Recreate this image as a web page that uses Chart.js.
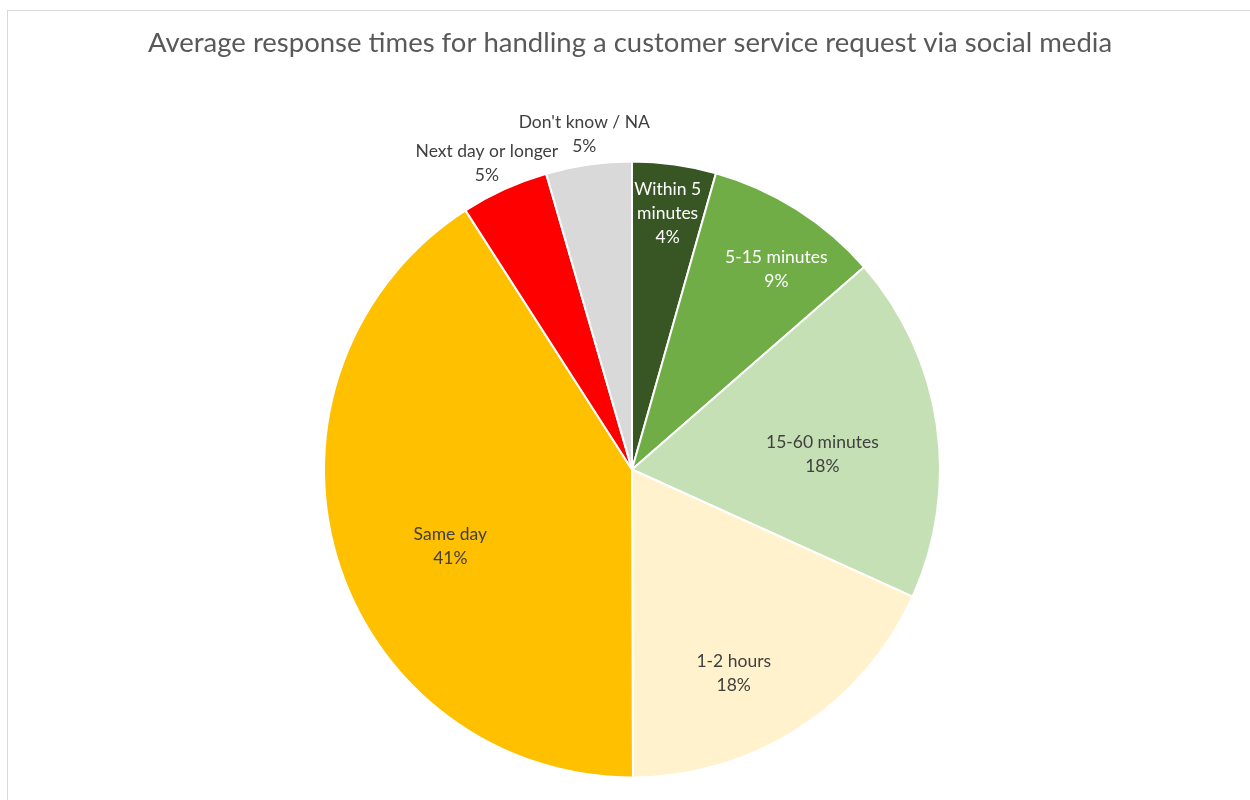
<!DOCTYPE html>
<html>
<head>
<meta charset="utf-8">
<script src="https://cdn.jsdelivr.net/npm/chart.js@4.4.1/dist/chart.umd.min.js"></script>
<style>
  html, body { margin: 0; padding: 0; background: #fff; overflow: hidden; }
  #frame { position: absolute; left: 7px; top: 10px; width: 1300px; height: 850px; border: 1px solid #d9d9d9; }
  #wrap { position: absolute; left: 0; top: 0; width: 1250px; height: 800px; }
</style>
</head>
<body>
<div id="frame"></div>
<div id="wrap"><canvas id="pieChart" width="1250" height="800"></canvas></div>
<script>
// data
const categories = ['Within 5 minutes', '5-15 minutes', '15-60 minutes', '1-2 hours', 'Same day', 'Next day or longer', "Don't know / NA"];
const shares = [4.4, 9.2, 18.2, 18.2, 41.0, 4.6, 4.5];
const shownPct = ['4%', '9%', '18%', '18%', '41%', '5%', '5%'];
const titleText = 'Average response times for handling a customer service request via social media';

const colors = ['#375623', '#70ad47', '#c5e0b4', '#fff2cc', '#ffc000', '#ff0000', '#d9d9d9'];
const textColors = ['#ffffff', '#ffffff', '#404040', '#404040', '#404040', '#404040', '#404040'];
// label lines (Excel wraps the first one)
const labelLines = [['Within 5', 'minutes'], ['5-15 minutes'], ['15-60 minutes'], ['1-2 hours'], ['Same day'], ['Next day or longer'], ["Don't know / NA"]];
const labelRadius = [0.84, 0.80, 0.62, 0.74, 0.64, 1.10, 1.10];
const labelShift = [0, 3.5, 3.8, 6.4, -6.4, -0.9, 0];

const FONT = 'Lato, "Open Sans", sans-serif';

const labelPlugin = {
    id: 'pieLabels',
    afterDraw(chart) {
        const ctx = chart.ctx;
        const arcs = chart.getDatasetMeta(0).data;
        ctx.save();
        ctx.textAlign = 'center';
        ctx.textBaseline = 'middle';
        ctx.font = '17.5px ' + FONT;
        arcs.forEach((arc, i) => {
            const mid = (arc.startAngle + arc.endAngle) / 2 + labelShift[i] * Math.PI / 180;
            const r = arc.outerRadius * labelRadius[i];
            const x = arc.x + Math.cos(mid) * r;
            const y = arc.y + Math.sin(mid) * r;
            const lines = labelLines[i].concat([shownPct[i]]);
            const lh = 24;
            const top = y - (lines.length - 1) * lh / 2;
            ctx.fillStyle = textColors[i];
            lines.forEach((t, k) => ctx.fillText(t, x, top + k * lh));
        });

        // title, sized to the reference width
        ctx.font = '100px ' + FONT;
        const w = ctx.measureText(titleText).width;
        const size = 100 * 964 / w;
        ctx.font = size.toFixed(2) + 'px ' + FONT;
        ctx.fillStyle = '#595959';
        ctx.fillText(titleText, 630, 43);
        ctx.restore();
    }
};

const ctx = document.getElementById('pieChart').getContext('2d');
new Chart(ctx, {
    type: 'pie',
    data: {
        labels: categories,
        datasets: [{
            data: shares,
            backgroundColor: colors,
            borderColor: '#ffffff',
            borderWidth: 2
        }]
    },
    options: {
        responsive: false,
        animation: false,
        layout: { padding: { top: 160, bottom: 21, left: 323, right: 309 } },
        plugins: {
            legend: { display: false },
            title: { display: false },
            tooltip: { enabled: false }
        }
    },
    plugins: [labelPlugin]
});
</script>
</body>
</html>
